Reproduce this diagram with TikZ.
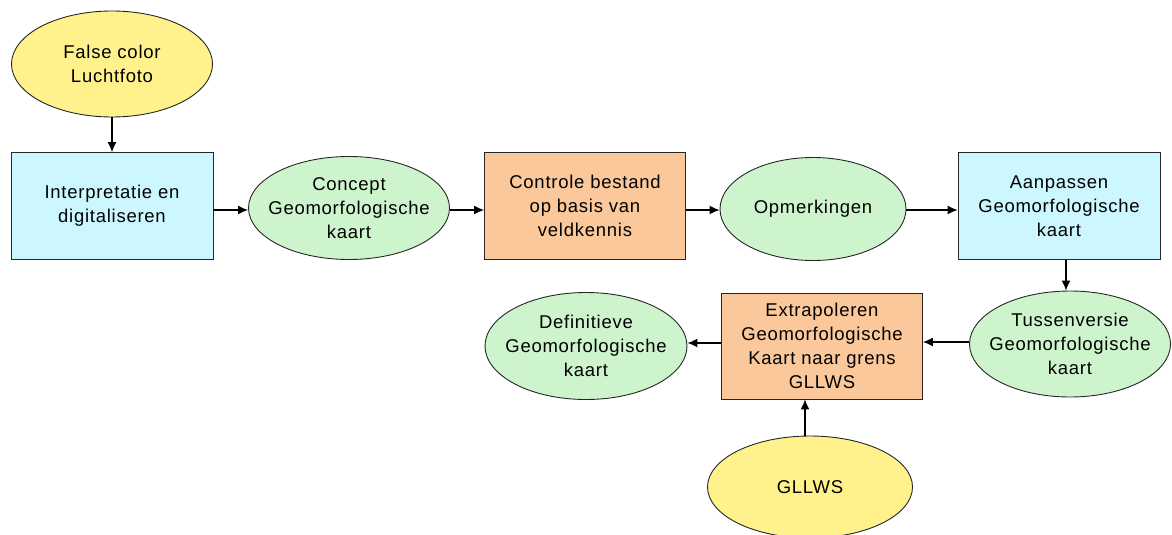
\documentclass[tikz,border=0pt]{standalone}
\usepackage{fontspec}
\setmainfont{Liberation Sans}
\usetikzlibrary{shapes.geometric,arrows.meta}
\definecolor{cyel}{RGB}{255,242,140}
\definecolor{ccyan}{RGB}{204,247,255}
\definecolor{cgreen}{RGB}{206,244,206}
\definecolor{corange}{RGB}{250,200,154}
\tikzset{
  txt/.style={align=center, inner sep=0pt,
    font=\fontsize{18.5}{24}\selectfont\addfontfeatures{LetterSpace=4}},
  base/.style={draw=black!85, line width=0.9pt, txt},
  srcell/.style={base, ellipse, fill=cyel, minimum width=201pt, minimum height=106pt},
  resell/.style={base, ellipse, fill=cgreen, minimum width=201pt, minimum height=103pt},
  procbox/.style={base, rectangle, fill=ccyan, minimum width=202pt, minimum height=107pt},
  ctrlbox/.style={base, rectangle, fill=corange, minimum width=201pt, minimum height=107pt},
  inner/.style={label={[txt]center:#1}},
  conn/.style={line width=1.3pt, -{Latex[length=10pt,width=9pt]}}
}
\begin{document}
\begin{tikzpicture}[x=1pt,y=-1pt]
\useasboundingbox (0,0) rectangle (1172,535);
\node[srcell, inner={False color\\Luchtfoto}] (luchtfoto) at (112,64) {};
\node[procbox] (interp) at (112,206) {Interpretatie en\\digitaliseren};
\node[resell, inner={Concept\\Geomorfologische\\kaart}] (concept) at (349,208) {};
\node[ctrlbox] (controle) at (585,206) {Controle bestand\\op basis van\\veldkennis};
\node[resell, minimum width=186pt, inner={Opmerkingen}] (opm) at (813,209) {};
\node[procbox] (aanpassen) at (1059,206) {Aanpassen\\Geomorfologische\\kaart};
\node[resell, minimum height=106pt, inner={Tussenversie\\Geomorfologische\\kaart}] (tussen) at (1070,344) {};
\node[ctrlbox, minimum height=106pt] (extra) at (822,346) {Extrapoleren\\Geomorfologische\\Kaart naar grens\\GLLWS};
\node[resell, minimum width=202pt, minimum height=107pt, inner={Definitieve\\Geomorfologische\\kaart}] (defin) at (586,346) {};
\node[srcell, minimum width=205pt, minimum height=102pt, inner={GLLWS}] (gllws) at (810,487) {};
\draw[conn] (luchtfoto) -- (interp);
\draw[conn] (interp.east |- 0,210) -- (concept.west |- 0,210);
\draw[conn] (concept.east |- 0,210) -- (controle.west |- 0,210);
\draw[conn] (controle.east |- 0,210) -- (opm.west |- 0,210);
\draw[conn] (opm.east |- 0,210) -- (aanpassen.west |- 0,210);
\draw[conn] (aanpassen.south -| 1066,0) -- (tussen.north -| 1066,0);
\draw[conn] (tussen.west |- 0,342) -- (extra.east |- 0,342);
\draw[conn] (extra.west |- 0,343) -- (defin.east |- 0,343);
\draw[conn] (gllws.north -| 805,0) -- (extra.south -| 805,0);
\end{tikzpicture}
\end{document}
